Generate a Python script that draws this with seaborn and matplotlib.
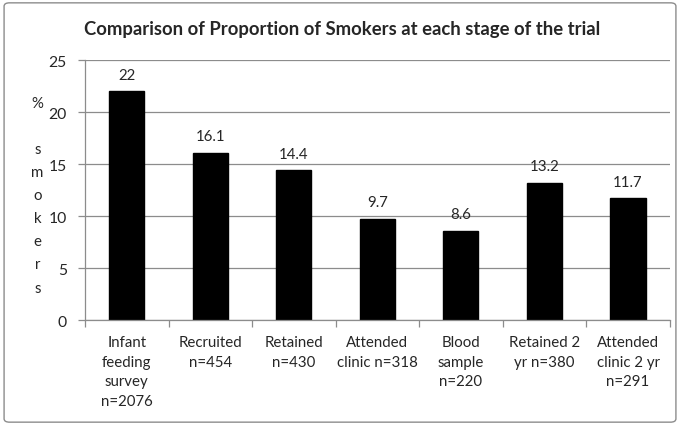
import matplotlib
matplotlib.use("Agg")
import matplotlib.pyplot as plt
import seaborn as sns
import pandas as pd
from matplotlib.patches import FancyBboxPatch
from matplotlib.ticker import FixedLocator

categories = ["Infant\nfeeding\nsurvey\nn=2076", "Recruited\nn=454", "Retained\nn=430",
              "Attended\nclinic n=318", "Blood\nsample\nn=220", "Retained 2\nyr n=380",
              "Attended\nclinic 2 yr\nn=291"]
values = [22, 16.1, 14.4, 9.7, 8.6, 13.2, 11.7]
value_labels = ["22", "16.1", "14.4", "9.7", "8.6", "13.2", "11.7"]
yticks = [0, 5, 10, 15, 20, 25]

sns.set_theme(style="white")
plt.rcParams['font.family'] = ['Lato', 'DejaVu Sans']

df = pd.DataFrame({"cat": categories, "val": values})

fig = plt.figure(figsize=(6.8, 4.27), dpi=100)
ax = fig.add_axes([0.125, 0.248, 0.86, 0.609])

sns.barplot(data=df, x="cat", y="val", color="black", width=0.42, ax=ax,
            saturation=1, edgecolor="black")

grid_c = "#8c8c8c"
fs = 10.8
ax.set_ylim(0, 25)
ax.set_xlim(-0.5, len(categories) - 0.5)
ax.set_yticks(yticks)
ax.set_yticklabels([str(t) for t in yticks], fontsize=fs + 0.5)
ax.yaxis.grid(True, color=grid_c, linewidth=0.9)
ax.set_axisbelow(True)
for s in ["top", "right"]:
    ax.spines[s].set_visible(False)
for s in ["left", "bottom"]:
    ax.spines[s].set_color(grid_c)
    ax.spines[s].set_linewidth(0.9)

ax.tick_params(axis="y", which="major", left=True, length=5, color=grid_c, width=0.9, pad=8)
ax.set_xticks(range(len(categories)))
ax.set_xticklabels(categories, fontsize=fs, linespacing=1.5, va="top")
ax.tick_params(axis="x", which="major", bottom=False, length=0, pad=11)
ax.xaxis.set_minor_locator(FixedLocator([i - 0.5 for i in range(len(categories) + 1)]))
ax.tick_params(axis="x", which="minor", bottom=True, length=5, color=grid_c, width=0.9)

ax.set_xlabel("")
ax.set_ylabel("")

for i, (v, lab) in enumerate(zip(values, value_labels)):
    ax.annotate(lab, (i, v), xytext=(0, 7), textcoords="offset points",
                ha="center", va="bottom", fontsize=fs)

fig.text(0.055, 0.772, "%\n\ns\nm\no\nk\ne\nr\ns", ha="center", va="top",
         fontsize=fs, linespacing=1.82)

fig.text(0.503, 0.932, "Comparison of Proportion of Smokers at each stage of the trial",
         ha="center", va="center", fontsize=13.3, fontweight="bold")

border = FancyBboxPatch((0.006, 0.009), 0.988, 0.982, boxstyle="round,pad=0,rounding_size=0.008",
                        transform=fig.transFigure, fill=False, edgecolor="#8c8c8c", linewidth=1)
fig.patches.append(border)

fig.savefig("out.png", dpi=100)
